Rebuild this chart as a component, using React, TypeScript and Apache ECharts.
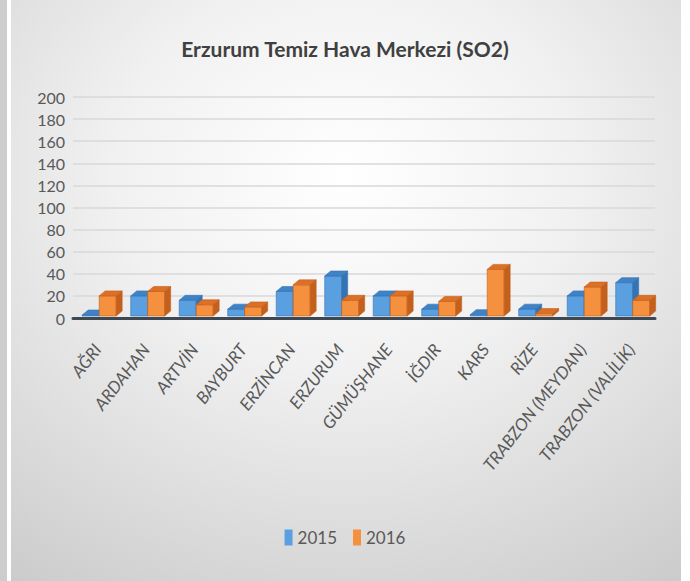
import React, { useEffect, useRef } from "react";
import * as echarts from "echarts";

const categories = [
  "AĞRI",
  "ARDAHAN",
  "ARTVİN",
  "BAYBURT",
  "ERZİNCAN",
  "ERZURUM",
  "GÜMÜŞHANE",
  "İĞDIR",
  "KARS",
  "RİZE",
  "TRABZON (MEYDAN)",
  "TRABZON (VALİLİK)",
];
const values2015 = [2, 20, 16, 8, 24, 38, 20, 8, 3, 8, 20, 32];
const values2016 = [20, 24, 12, 10, 30, 16, 20, 15, 44, 4, 28, 16];
const seriesNames = ["2015", "2016"];
const yTicks = { min: 0, max: 200, interval: 20 };

const palette = [
  { front: "#5a9fe0", top: "#3f82c6", side: "#3473b4" },
  { front: "#f4903e", top: "#dc7027", side: "#c4601c" },
];

function makeRender(seriesIdx: number) {
  return (params: any, api: any) => {
    const idx = api.value(0);
    const val = api.value(1);
    const base = api.coord([idx, 0]);
    const top = api.coord([idx, val]);
    const band = api.size([1, 0])[0];
    const w = band * 0.35;
    const shift = band * 0.04;
    const x0 = seriesIdx === 0 ? base[0] - w + shift : base[0] + shift;
    const dx = 6;
    const dy = 5;
    const yb = base[1] - 2;
    const yt = Math.min(top[1], yb - 1);
    const c = palette[seriesIdx];
    return {
      type: "group",
      children: [
        {
          type: "rect",
          shape: { x: x0, y: yt, width: w, height: yb - yt },
          style: { fill: c.front, stroke: c.side, lineWidth: 0.6 },
        },
        {
          type: "polygon",
          shape: {
            points: [
              [x0, yt],
              [x0 + dx, yt - dy],
              [x0 + w + dx, yt - dy],
              [x0 + w, yt],
            ],
          },
          style: { fill: c.top, stroke: c.side, lineWidth: 0.6 },
        },
        {
          type: "polygon",
          shape: {
            points: [
              [x0 + w, yt],
              [x0 + w + dx, yt - dy],
              [x0 + w + dx, yb - dy],
              [x0 + w, yb],
            ],
          },
          style: { fill: c.side, stroke: c.side, lineWidth: 0.6 },
        },
      ],
    };
  };
}

export default function App() {
  const ref = useRef<HTMLDivElement>(null);

  useEffect(() => {
    document.body.style.margin = "0";
    if (!ref.current) return;
    const chart = echarts.init(ref.current, null, { renderer: "svg" });
    const font = "Lato, 'Noto Sans', sans-serif";
    chart.setOption({
      animation: false,
      backgroundColor: {
        type: "radial",
        x: 0.5,
        y: 0.3,
        r: 0.95,
        colorStops: [
          { offset: 0, color: "#ffffff" },
          { offset: 0.35, color: "#f1f1f1" },
          { offset: 1, color: "#c4c4c4" },
        ],
      },
      title: {
        text: "Erzurum Temiz Hava Merkezi (SO2)",
        left: "center",
        top: 33,
        textStyle: {
          fontFamily: font,
          fontSize: 21,
          fontWeight: "bold",
          color: "#404040",
        },
      },
      legend: {
        data: seriesNames,
        bottom: 30,
        left: "center",
        itemWidth: 8,
        itemHeight: 16,
        itemGap: 16,
        icon: "rect",
        textStyle: { fontFamily: font, fontSize: 17, color: "#595959" },
      },
      grid: { left: 73, right: 35, top: 97, bottom: 263 },
      xAxis: {
        type: "category",
        data: categories,
        axisLine: { lineStyle: { color: "#3d4852", width: 3 } },
        axisTick: { show: false },
        axisLabel: {
          interval: 0,
          rotate: 52,
          margin: 28,
          fontFamily: font,
          fontSize: 17,
          fontStyle: "italic",
          color: "#595959",
        },
      },
      yAxis: {
        type: "value",
        min: yTicks.min,
        max: yTicks.max,
        interval: yTicks.interval,
        axisLine: { show: false },
        axisTick: { show: false },
        axisLabel: { fontFamily: font, fontSize: 16, color: "#595959", margin: 8 },
        splitLine: { lineStyle: { color: "#d9d9d9", width: 1.5 } },
      },
      graphic: [
        { type: "rect", shape: { x: 0, y: 0, width: 7, height: 581 }, style: { fill: "#cdcdcd" } },
        { type: "rect", shape: { x: 7, y: 0, width: 4, height: 581 }, style: { fill: "#ffffff" } },
        { type: "rect", shape: { x: 681, y: 0, width: 9, height: 581 }, style: { fill: "#ffffff" } },
      ],
      series: [values2015, values2016].map((vals, si) => ({
        name: seriesNames[si],
        type: "custom",
        itemStyle: { color: palette[si].front },
        encode: { x: 0, y: 1 },
        data: vals.map((v, i) => [i, v]),
        renderItem: makeRender(si),
      })),
    });
    return () => chart.dispose();
  }, []);

  return <div ref={ref} style={{ width: 690, height: 581 }} />;
}
